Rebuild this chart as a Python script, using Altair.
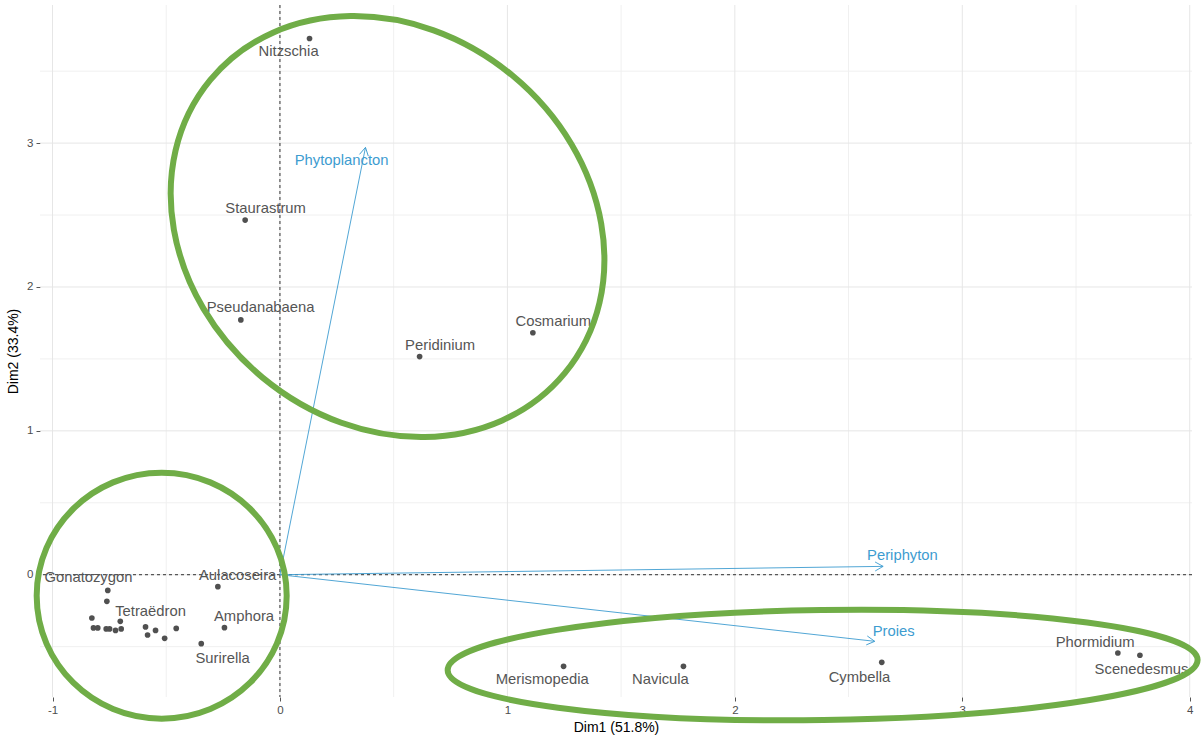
import math
import altair as alt
import pandas as pd

# ---- individuals (PCA coordinates on Dim1 / Dim2) ----
ind_name = [
    "Nitzschia", "Staurastrum", "Pseudanabaena", "Peridinium", "Cosmarium",
    "Gonatozygon", "", "", "", "", "", "", "", "", "Tetraëdron", "", "", "", "", "",
    "Surirella", "Aulacoseira", "Amphora",
    "Merismopedia", "Navicula", "Cymbella", "Phormidium", "Scenedesmus",
]
ind_x = [
    0.130, -0.153, -0.172, 0.614, 1.112,
    -0.757, -0.761, -0.827, -0.820, -0.801, -0.764, -0.749, -0.723, -0.698, -0.591,
    -0.702, -0.582, -0.547, -0.507, -0.456, -0.346, -0.273, -0.244,
    1.247, 1.774, 2.646, 3.684, 3.781,
]
ind_y = [
    3.727, 2.465, 1.771, 1.516, 1.682,
    -0.109, -0.185, -0.301, -0.370, -0.370, -0.377, -0.377, -0.387, -0.377, -0.363,
    -0.324, -0.419, -0.387, -0.442, -0.373, -0.479, -0.083, -0.368,
    -0.637, -0.637, -0.609, -0.544, -0.560,
]

# ---- repelled label positions for the named individuals ----
lab_name = [
    "Nitzschia", "Staurastrum", "Pseudanabaena", "Peridinium", "Cosmarium",
    "Gonatozygon", "Tetraëdron", "Aulacoseira", "Amphora", "Surirella",
    "Merismopedia", "Navicula", "Cymbella", "Phormidium", "Scenedesmus",
]
lab_x = [0.038, -0.063, -0.085, 0.704, 1.202,
         -0.842, -0.569, -0.186, -0.158, -0.252,
         1.153, 1.673, 2.548, 3.584, 3.788]
lab_y = [3.634, 2.545, 1.854, 1.591, 1.759,
         -0.021, -0.262, -0.012, -0.292, -0.583,
         -0.734, -0.734, -0.717, -0.474, -0.660]

# ---- variables (arrows) ----
var_name = ["Phytoplancton", "Periphyton", "Proies"]
var_x = [0.376, 2.652, 2.615]
var_y = [2.970, 0.058, -0.463]
var_lab_x = [0.271, 2.737, 2.698]
var_lab_y = [2.875, 0.132, -0.396]

# ---- grid ----
x_major = [-1, 0, 1, 2, 3, 4]
x_minor = [-0.5, 0.5, 1.5, 2.5, 3.5]
y_major = [0, 1, 2, 3]
y_minor = [-0.5, 0.5, 1.5, 2.5, 3.5]

X_DOMAIN = [-1.055, 4.01]
Y_DOMAIN = [-0.85, 3.96]
W, H = 1152, 692

GREY_PT = "#505050"
GREY_TXT = "#555555"
BLUE = "#3D9CD0"
GREEN = "#70AD47"
FONT = "Liberation Sans"
LABEL_SIZE = 14.8

# group outlines: centre (data units), semi-axes (px), rotation (deg)
groups = [
    dict(cx=0.473, cy=2.420, a=230, b=196, rot=39.6),
    dict(cx=-0.520, cy=-0.146, a=125, b=123, rot=0),
    dict(cx=2.386, cy=-0.628, a=375, b=55, rot=359.2),
]

xs = alt.Scale(domain=X_DOMAIN, nice=False, zero=False)
ys = alt.Scale(domain=Y_DOMAIN, nice=False, zero=False)

XAXIS = alt.Axis(
    values=x_major, labelExpr="'' + datum.value", grid=False, domain=False,
    ticks=True, tickSize=4, tickColor="#555555", tickWidth=1,
    labelColor="#4D4D4D", labelFontSize=11.5, labelFont=FONT, labelPadding=3,
    title="Dim1 (51.8%)", titleFont=FONT, titleFontSize=14,
    titleFontWeight="normal", titleColor="black", titlePadding=5,
)
YAXIS = alt.Axis(
    values=y_major, labelExpr="'' + datum.value", grid=False, domain=False,
    ticks=True, tickSize=4, tickColor="#555555", tickWidth=1,
    labelColor="#4D4D4D", labelFontSize=11.5, labelFont=FONT, labelPadding=3,
    title="Dim2 (33.4%)", titleFont=FONT, titleFontSize=14,
    titleFontWeight="normal", titleColor="black", titlePadding=6,
)


def X(field="x"):
    return alt.X(f"{field}:Q", scale=xs, axis=XAXIS)


def Y(field="y"):
    return alt.Y(f"{field}:Q", scale=ys, axis=YAXIS)


# pixels per data unit, used to orient arrowheads on screen
kx = W / (X_DOMAIN[1] - X_DOMAIN[0])
ky = H / (Y_DOMAIN[1] - Y_DOMAIN[0])

ind_df = pd.DataFrame({"name": ind_name, "x": ind_x, "y": ind_y})
lab_df = pd.DataFrame({"name": lab_name, "x": lab_x, "y": lab_y})
var_df = pd.DataFrame({
    "name": var_name,
    "x": [0.0] * len(var_x), "y": [0.0] * len(var_y),
    "x2": var_x, "y2": var_y,
    "angle": [math.degrees(math.atan2(-vy * ky, vx * kx)) % 360 for vx, vy in zip(var_x, var_y)],
})
var_tip_df = pd.DataFrame({"x": var_x, "y": var_y, "angle": var_df["angle"]})
var_lab_df = pd.DataFrame({"name": var_name, "x": var_lab_x, "y": var_lab_y})

grp_df = pd.DataFrame({
    "x": [g["cx"] for g in groups],
    "y": [g["cy"] for g in groups],
    "angle": [g["rot"] for g in groups],
    "path": [
        f"M{-g['a']},0 A{g['a']},{g['b']} 0 1,0 {g['a']},0 A{g['a']},{g['b']} 0 1,0 {-g['a']},0 Z"
        for g in groups
    ],
})

# grid lines
gx_major = alt.Chart(pd.DataFrame({"x": x_major})).mark_rule(color="#E6E6E6", strokeWidth=1).encode(x=X())
gx_minor = alt.Chart(pd.DataFrame({"x": x_minor})).mark_rule(color="#F0F0F0", strokeWidth=1).encode(x=X())
gy_major = alt.Chart(pd.DataFrame({"y": y_major})).mark_rule(color="#E6E6E6", strokeWidth=1).encode(y=Y())
gy_minor = alt.Chart(pd.DataFrame({"y": y_minor})).mark_rule(color="#F0F0F0", strokeWidth=1).encode(y=Y())

# dashed reference lines through the origin
zero_x = alt.Chart(pd.DataFrame({"x": [0]})).mark_rule(
    color="black", strokeWidth=0.8, strokeDash=[3, 3]).encode(x=X())
zero_y = alt.Chart(pd.DataFrame({"y": [0]})).mark_rule(
    color="black", strokeWidth=0.8, strokeDash=[3, 3]).encode(y=Y())

# variable arrows
arrows = alt.Chart(var_df).mark_rule(color=BLUE, strokeWidth=0.9).encode(
    x=X(), y=Y(), x2="x2", y2="y2")
heads = alt.Chart(var_tip_df).mark_point(
    shape="M-8,-4.5 L0,0 L-8,4.5", filled=False, color=BLUE, strokeWidth=0.9,
    size=4, opacity=1,
).encode(x=X(), y=Y(), angle=alt.Angle("angle:Q", scale=None))
var_text = alt.Chart(var_lab_df).mark_text(
    font=FONT, fontSize=LABEL_SIZE, color=BLUE).encode(x=X(), y=Y(), text="name:N")

# individuals
points = alt.Chart(ind_df).mark_circle(size=32, color=GREY_PT, opacity=1).encode(x=X(), y=Y())
ind_text = alt.Chart(lab_df).mark_text(
    font=FONT, fontSize=LABEL_SIZE, color=GREY_TXT).encode(x=X(), y=Y(), text="name:N")

# group outlines
outlines = alt.Chart(grp_df).mark_point(
    filled=False, color=GREEN, strokeWidth=6, size=4, opacity=1,
).encode(
    x=X(), y=Y(),
    shape=alt.Shape("path:N", scale=None, legend=None),
    angle=alt.Angle("angle:Q", scale=None),
)

chart = alt.layer(
    gx_minor, gy_minor, gx_major, gy_major, zero_x, zero_y,
    arrows, heads, var_text, points, ind_text, outlines,
).properties(
    width=W, height=H,
    padding={"left": 40, "top": 5, "right": 10, "bottom": 44},
    autosize=alt.AutoSizeParams(type="none"),
    background="white",
).configure_view(stroke=None)

chart.save("out.html", embed_options={"renderer": "svg", "actions": False})
